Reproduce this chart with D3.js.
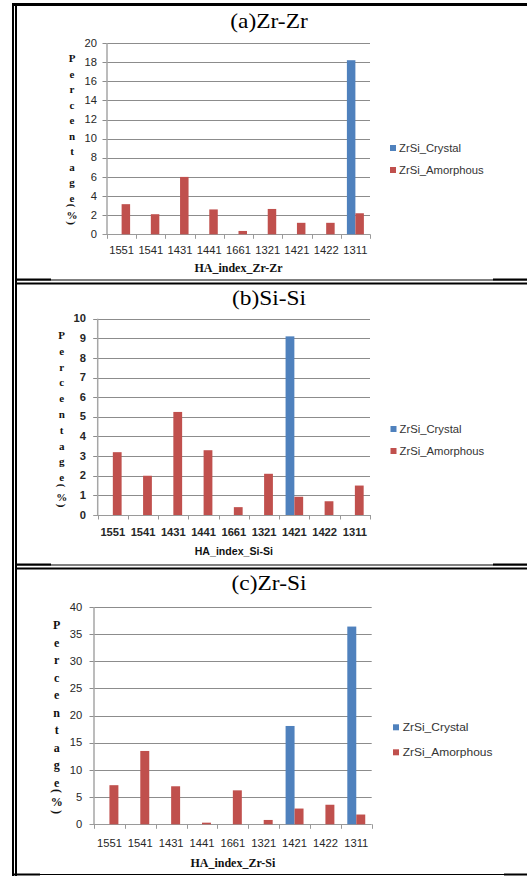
<!DOCTYPE html>
<html>
<head>
<meta charset="utf-8">
<script src="https://cdn.jsdelivr.net/npm/d3@7"></script>
<style>
  html, body { margin: 0; padding: 0; background: #fff; }
  svg { display: block; }
</style>
</head>
<body>
<svg id="fig" width="527" height="876"></svg>
<script>
// HA index categories shared by all three panels
const categories = ["1551", "1541", "1431", "1441", "1661", "1321", "1421", "1422", "1311"];
const seriesNames = ["ZrSi_Crystal", "ZrSi_Amorphous"];
const seriesColors = ["#4F81BD", "#C0504D"];

// (a) Zr-Zr pairs, percentage
const zrZrCrystal   = [0, 0, 0, 0, 0, 0, 0, 0, 18.2];
const zrZrAmorphous = [3.15, 2.1, 6.0, 2.6, 0.35, 2.65, 1.2, 1.2, 2.2];
// (b) Si-Si pairs, percentage
const siSiCrystal   = [0, 0, 0, 0, 0, 0, 9.1, 0, 0];
const siSiAmorphous = [3.2, 2.0, 5.25, 3.3, 0.4, 2.1, 0.93, 0.7, 1.5];
// (c) Zr-Si pairs, percentage
const zrSiCrystal   = [0, 0, 0, 0, 0, 0, 18.1, 0, 36.4];
const zrSiAmorphous = [7.2, 13.5, 7.0, 0.3, 6.25, 0.8, 2.9, 3.6, 1.8];

const panelTitles = ["(a)Zr-Zr", "(b)Si-Si", "(c)Zr-Si"];
const axisTitles = ["HA_index_Zr-Zr", "HA_index_Si-Si", "HA_index_Zr-Si"];
const yTicksA = [0, 2, 4, 6, 8, 10, 12, 14, 16, 18, 20];
const yTicksB = [0, 1, 2, 3, 4, 5, 6, 7, 8, 9, 10];
const yTicksC = [0, 5, 10, 15, 20, 25, 30, 35, 40];
const yLabelChars = ["P", "e", "r", "c", "e", "n", "t", "a", "g", "e", "(", "%", ")"];

const SERIF = "'Liberation Serif', 'Times New Roman', serif";
const SANS = "'Liberation Sans', Arial, sans-serif";

const svg = d3.select("#fig");
svg.append("rect").attr("width", 527).attr("height", 876).attr("fill", "#fff");

// text placed at (x, y) with an optional horizontal stretch
function label(parent, x, y, str, o) {
  const g = parent.append("g")
    .attr("transform", `translate(${x},${y}) scale(${o.sx || 1},1)`);
  const t = g.append("text")
    .attr("x", 0).attr("y", 0)
    .attr("text-anchor", o.anchor || "start")
    .attr("font-family", o.family || SANS)
    .attr("font-size", o.size || 10)
    .attr("font-weight", o.weight || "normal")
    .attr("fill", o.fill || "#222")
    .text(str);
  if (o.rotate) t.attr("transform", `rotate(${o.rotate})`).attr("dominant-baseline", "central");
  return t;
}

// ---- table frame around the three panels ----
const frame = svg.append("g").attr("fill", "#000");
frame.append("rect").attr("x", 12).attr("y", 3).attr("width", 515).attr("height", 3);
frame.append("rect").attr("x", 12).attr("y", 3).attr("width", 2).attr("height", 873);
frame.append("rect").attr("x", 15).attr("y", 3).attr("width", 2).attr("height", 873);
[278.5, 563.5].forEach(y => {
  frame.append("rect").attr("x", 15).attr("y", y + 1).attr("width", 512).attr("height", 1);
  frame.append("rect").attr("x", 15).attr("y", y).attr("width", 36).attr("height", 2);
  frame.append("rect").attr("x", 493).attr("y", y).attr("width", 34).attr("height", 2);
  frame.append("rect").attr("x", 15).attr("y", y + 4).attr("width", 512).attr("height", 2);
});
frame.append("rect").attr("x", 12).attr("y", 874).attr("width", 515).attr("height", 1);
frame.append("rect").attr("x", 12).attr("y", 873.5).attr("width", 28).attr("height", 2);
frame.append("rect").attr("x", 504).attr("y", 873.5).attr("width", 23).attr("height", 2);

// ---- panel layouts ----
const panels = [
  {
    crystal: zrZrCrystal, amorphous: zrZrAmorphous, ticks: yTicksA,
    title: panelTitles[0], axisTitle: axisTitles[0],
    x0: 107, x1: 370, yTop: 43, yBase: 234.3,
    titleY: 28.3, catY: 254, axisTitleY: 271.7, axisTitleSerif: true,
    tickRight: 97, bold: false,
    yl: { x: 72, y0: 58.3, step: 15.5, par: [205.5, 215, 223], size: 11 },
    legend: { x: 390, y: [148, 170], tx: 399, size: 10, sx: 1.13 }
  },
  {
    crystal: siSiCrystal, amorphous: siSiAmorphous, ticks: yTicksB,
    title: panelTitles[1], axisTitle: axisTitles[1],
    x0: 97.7, x1: 370, yTop: 318.7, yBase: 515,
    titleY: 305, catY: 535.5, axisTitleY: 555, axisTitleSerif: false,
    tickRight: 86, bold: true,
    yl: { x: 61.7, y0: 335, step: 15.8, par: [485.5, 496.7, 505.5], size: 11 },
    legend: { x: 390.5, y: [429, 451], tx: 399.5, size: 10, sx: 1.13 }
  },
  {
    crystal: zrSiCrystal, amorphous: zrSiAmorphous, ticks: yTicksC,
    title: panelTitles[2], axisTitle: axisTitles[2],
    x0: 94, x1: 371.7, yTop: 607, yBase: 824.3,
    titleY: 590, catY: 846.5, axisTitleY: 866.7, axisTitleSerif: true,
    tickRight: 82.3, bold: false,
    yl: { x: 56.7, y0: 625, step: 17.5, par: [791, 802.3, 812], size: 12 },
    legend: { x: 393, y: [727.3, 752.3], tx: 402.7, size: 10.5, sx: 1.14 }
  }
];

panels.forEach(p => {
  const g = svg.append("g");
  const yMax = p.ticks[p.ticks.length - 1];
  const y = d3.scaleLinear().domain([0, yMax]).range([p.yBase, p.yTop]);
  const x = d3.scaleBand().domain(categories).range([p.x0, p.x1]).padding(0);
  const xs = d3.scaleBand().domain(seriesNames).range([0, x.bandwidth()])
    .paddingInner(0).paddingOuter(0.72);

  // title
  label(g, 269, p.titleY, p.title, { family: SERIF, size: 20, anchor: "middle", sx: 1.17, fill: "#000" });

  // horizontal gridlines with outside ticks
  g.append("g").selectAll("line").data(p.ticks).join("line")
    .attr("x1", p.x0 - 4.5).attr("x2", p.x1)
    .attr("y1", d => Math.round(y(d)) + 0.5).attr("y2", d => Math.round(y(d)) + 0.5)
    .attr("stroke", d => d === 0 ? "#9a9a9a" : "#8c8c8c").attr("stroke-width", 1);

  // y axis line
  g.append("line")
    .attr("x1", p.x0).attr("x2", p.x0).attr("y1", p.yTop).attr("y2", p.yBase)
    .attr("stroke", "#a6a6a6").attr("stroke-width", 1.5);

  // y tick labels
  p.ticks.forEach(t => {
    label(g, p.tickRight, y(t) + 3.6, String(t),
      { size: 10, anchor: "end", sx: 1.12, weight: p.bold ? "bold" : "normal", fill: "#262626" });
  });

  // category tick marks along the baseline
  const bounds = categories.map(c => x(c)).concat([p.x1]);
  g.append("g").selectAll("line").data(bounds).join("line")
    .attr("x1", d => Math.round(d) + 0.5).attr("x2", d => Math.round(d) + 0.5)
    .attr("y1", p.yBase).attr("y2", p.yBase + 4.5)
    .attr("stroke", "#9a9a9a").attr("stroke-width", 1);

  // category labels
  categories.forEach(c => {
    label(g, x(c) + x.bandwidth() / 2, p.catY, c,
      { size: 10, anchor: "middle", sx: 1.12, weight: p.bold ? "bold" : "normal", fill: "#262626" });
  });

  // bars
  const rows = categories.map((c, i) => ({ cat: c, vals: [p.crystal[i], p.amorphous[i]] }));
  g.append("g").selectAll("g").data(rows).join("g")
    .attr("transform", d => `translate(${x(d.cat)},0)`)
    .selectAll("rect")
    .data(d => d.vals.map((v, k) => ({ key: seriesNames[k], v, k })).filter(e => e.v > 0))
    .join("rect")
    .attr("x", d => xs(d.key))
    .attr("width", xs.bandwidth())
    .attr("y", d => y(d.v))
    .attr("height", d => p.yBase - y(d.v))
    .attr("fill", d => seriesColors[d.k]);

  // x axis title
  if (p.axisTitleSerif) {
    label(g, (p.x0 + p.x1) / 2, p.axisTitleY, p.axisTitle,
      { family: SERIF, size: 12, weight: "bold", anchor: "middle", fill: "#111" });
  } else {
    label(g, (p.x0 + p.x1) / 2, p.axisTitleY, p.axisTitle,
      { family: SANS, size: 10, weight: "bold", anchor: "middle", sx: 1.06, fill: "#111" });
  }

  // vertically stacked y axis title
  yLabelChars.forEach((ch, i) => {
    if (i < 10) {
      label(g, p.yl.x, p.yl.y0 + i * p.yl.step + 4, ch,
        { family: SERIF, size: p.yl.size, weight: "bold", anchor: "middle", fill: "#111" });
    } else if (ch === "%") {
      label(g, p.yl.x, p.yl.par[1] + 4, ch,
        { family: SERIF, size: p.yl.size, weight: "bold", anchor: "middle", fill: "#111" });
    } else {
      label(g, p.yl.x, p.yl.par[i === 10 ? 0 : 2], ch,
        { family: SERIF, size: p.yl.size, weight: "bold", anchor: "middle", rotate: 90, fill: "#111" });
    }
  });

  // legend
  seriesNames.forEach((name, k) => {
    g.append("rect")
      .attr("x", p.legend.x).attr("y", p.legend.y[k] - 3)
      .attr("width", 6).attr("height", 6).attr("fill", seriesColors[k]);
    label(g, p.legend.tx, p.legend.y[k] + 3.6, name,
      { size: p.legend.size, sx: p.legend.sx, fill: "#333" });
  });
});
</script>
</body>
</html>
